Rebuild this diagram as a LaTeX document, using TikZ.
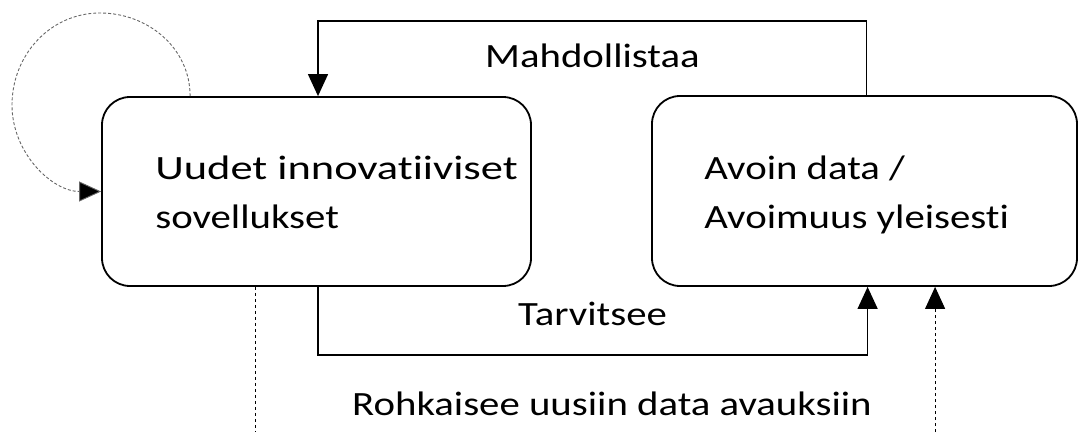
\documentclass[tikz,border=0pt]{standalone}
\usepackage{fontspec}
\setmainfont{Carlito}[FakeStretch=1.2, Ligatures={NoCommon}]
\usetikzlibrary{arrows.meta}
\begin{document}
\begin{tikzpicture}[x=1pt,y=1pt,
  box/.style={draw, line width=1.8pt, rounded corners=28pt, inner sep=0pt},
  boxtext/.style={align=left, inner sep=0pt, font=\fontsize{34}{49}\selectfont},
  lbl/.style={inner sep=0pt, font=\fontsize{34}{49}\selectfont},
  conn/.style={line width=1.3pt, -{Triangle[length=22pt,width=20pt]}},
  loopline/.style={line width=0.9pt, draw=black!60, dash pattern=on 3pt off 2pt, -{Triangle[length=22pt,width=20pt,fill=black]}},
  dotline/.style={line width=1pt, dash pattern=on 3pt off 3pt}
]
\useasboundingbox (0,0) rectangle (1079,432);
\node[box, minimum width=429pt, minimum height=189pt] (lbox) at (316.5,240.5) {};
\node[box, minimum width=425pt, minimum height=190pt] (rbox) at (864.5,241) {};
\node[boxtext, anchor=base west] (ltext) at ([xshift=54pt,yshift=-36.5pt]lbox.west) {\scalebox{1.09}[1]{Uudet innovatiiviset}\\sovellukset};
\node[boxtext, anchor=base west] (rtext) at ([xshift=53pt,yshift=-37pt]rbox.west) {Avoin data /\\Avoimuus yleisesti};
% Mahdollistaa
\coordinate (mA) at ([xshift=215.5pt]rbox.north west);
\coordinate (mB) at ([xshift=1.5pt]lbox.north);
\draw[conn] (mA) -- (mA |- 0,411) -- (mB |- 0,411) -- (mB);
\node[lbl, anchor=base] (mlbl) at (592.5,364) {Mahdollistaa};
% Tarvitsee
\coordinate (tA) at ([xshift=1.5pt]lbox.south);
\coordinate (tB) at ([xshift=216.5pt]rbox.south west);
\draw[conn] (tA) -- (tA |- 0,77) -- (tB |- 0,77) -- (tB);
\node[lbl, anchor=base] (tlbl) at (592.5,107) {Tarvitsee};
% Rohkaisee
\coordinate (rA) at ([xshift=154pt]lbox.south west);
\coordinate (rAend) at (rA |- 0,0);
\coordinate (rB) at ([xshift=284pt]rbox.south west);
\coordinate (rBstart) at (rB |- 0,0);
\draw[dotline] (rA) -- (rAend);
\draw[dotline, -{Triangle[length=22pt,width=20pt]}] (rBstart) -- (rB);
\node[lbl, anchor=base] (rlbl) at (612,17) {Rohkaisee uusiin data avauksiin};
% self loop
\coordinate (sA) at ([xshift=89pt]lbox.north west);
\draw[loopline] (sA) to[out=90,in=0] (100,419) to[out=180,in=90] (12,327) to[out=-90,in=180] (lbox.west);
\end{tikzpicture}
\end{document}
